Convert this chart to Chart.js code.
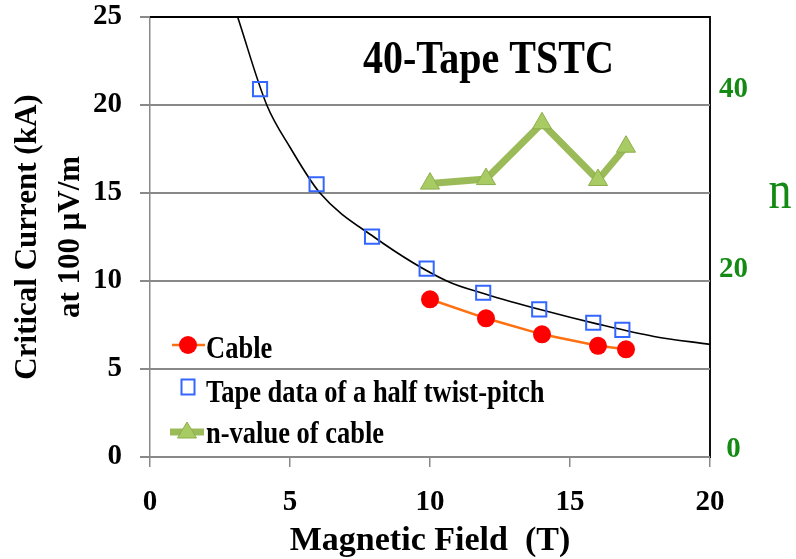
<!DOCTYPE html>
<html>
<head>
<meta charset="utf-8">
<script src="https://cdn.jsdelivr.net/npm/chart.js@4.4.1/dist/chart.umd.min.js"></script>
<style>
  html, body { margin: 0; padding: 0; background: #fff; }
</style>
</head>
<body>
<canvas id="c" width="796" height="559"></canvas>
<script>
// ---- data ----
const fieldCable = [10, 12, 14, 16, 17];
const icCable = [8.96, 7.88, 6.97, 6.32, 6.12];

const fieldTape = [3.93, 5.95, 7.93, 9.88, 11.9, 13.9, 15.83, 16.87];
const icTape = [20.9, 15.5, 12.52, 10.7, 9.33, 8.39, 7.63, 7.22];

const fieldFit = [3.13, 4.17, 5, 6.07, 8, 10.6, 12, 14, 16, 18, 20];
const icFit = [25, 20, 17.6, 15, 12.5, 10, 9.25, 8.35, 7.55, 6.85, 6.4];

const fieldN = [10, 12, 14, 16, 17];
const nValue = [29.6, 30.1, 36.3, 30.0, 33.7];

const xTicks = [0, 5, 10, 15, 20];
const yTicks = [0, 5, 10, 15, 20, 25];
const nTicks = [0, 20, 40];

const seriesNames = ['Cable', 'Tape data of a half twist-pitch', 'n-value of cable'];
const chartTitle = '40-Tape TSTC';
const xTitle = 'Magnetic Field  (T)';
const yTitle = ['Critical Current (kA)', 'at 100 \u03bcV/m'];
const y2Title = 'n';

const pts = (xs, ys) => xs.map((x, i) => ({ x: x, y: ys[i] }));

const SERIF = '"Liberation Serif", serif';
const GREEN_TXT = '#138A13';
const GRID = '#898989';

function stretchedText(ctx, text, x, y, size, sy, color, weight, align) {
  ctx.save();
  ctx.translate(x, y);
  ctx.scale(1, sy);
  ctx.font = weight + ' ' + size + 'px ' + SERIF;
  ctx.fillStyle = color;
  ctx.textAlign = align;
  ctx.textBaseline = 'alphabetic';
  ctx.fillText(text, 0, 0);
  ctx.restore();
}

// horizontal gridlines painted as thin bands at the y-scale tick positions
const gridBands = {
  id: 'gridBands',
  beforeDatasetsDraw(chart) {
    const ctx = chart.ctx;
    const sx = chart.scales.x, sy = chart.scales.y;
    const x0 = sx.getPixelForValue(xTicks[0]);
    const x1 = sx.getPixelForValue(xTicks[xTicks.length - 1]);
    ctx.save();
    yTicks.forEach((v, i) => {
      const py = Math.round(sy.getPixelForValue(v));
      ctx.fillStyle = (i === yTicks.length - 1) ? '#000' : GRID;
      ctx.fillRect(x0, py - 1, x1 - x0, 2);
    });
    ctx.restore();
  }
};

const overlay = {
  id: 'overlay',
  afterDraw(chart) {
    const ctx = chart.ctx;
    const ds = chart.data.datasets;

    // chart title and right-axis title
    stretchedText(ctx, chartTitle, 363, 73, 40, 1.17, '#000', 'bold', 'left');
    stretchedText(ctx, y2Title, 780, 208, 46, 1.2, GREEN_TXT, 'normal', 'center');

    // legend markers
    ctx.save();
    ctx.strokeStyle = ds[0].borderColor; ctx.lineWidth = ds[0].borderWidth;
    ctx.beginPath(); ctx.moveTo(172, 345); ctx.lineTo(205, 345); ctx.stroke();
    ctx.fillStyle = ds[0].pointBackgroundColor;
    ctx.beginPath(); ctx.arc(188, 345, 9, 0, Math.PI * 2); ctx.fill();
    ctx.strokeStyle = ds[1].pointBorderColor; ctx.lineWidth = 2;
    ctx.strokeRect(181.5, 379.5, 13, 15);
    ctx.strokeStyle = ds[2].borderColor; ctx.lineWidth = ds[2].borderWidth;
    ctx.beginPath(); ctx.moveTo(170, 432); ctx.lineTo(204, 432); ctx.stroke();
    ctx.fillStyle = ds[2].pointBackgroundColor;
    ctx.strokeStyle = ds[2].pointBorderColor; ctx.lineWidth = 1;
    ctx.beginPath(); ctx.moveTo(187, 422); ctx.lineTo(196.5, 438); ctx.lineTo(177.5, 438); ctx.closePath();
    ctx.fill(); ctx.stroke();
    ctx.restore();

    // legend labels
    stretchedText(ctx, seriesNames[0], 206, 358, 26.5, 1.23, '#000', 'bold', 'left');
    stretchedText(ctx, seriesNames[1], 206, 402, 26.5, 1.23, '#000', 'bold', 'left');
    stretchedText(ctx, seriesNames[2], 206, 443, 26.5, 1.23, '#000', 'bold', 'left');
  }
};

new Chart(document.getElementById('c'), {
  type: 'scatter',
  data: {
    datasets: [
      {
        label: seriesNames[0],
        data: pts(fieldCable, icCable),
        showLine: true,
        borderColor: '#FF7010',
        borderWidth: 2.5,
        pointStyle: 'circle',
        pointRadius: 9,
        pointBackgroundColor: '#FF0000',
        pointBorderColor: '#FF0000',
        pointBorderWidth: 0,
        yAxisID: 'y',
        order: 1
      },
      {
        label: seriesNames[1],
        data: pts(fieldTape, icTape),
        showLine: false,
        pointStyle: 'rect',
        pointRadius: 10,
        pointBackgroundColor: 'rgba(255,255,255,0)',
        pointBorderColor: '#3366FF',
        pointBorderWidth: 2,
        yAxisID: 'y',
        order: 2
      },
      {
        label: seriesNames[2],
        data: pts(fieldN, nValue),
        showLine: true,
        borderColor: '#9BBB59',
        borderWidth: 7,
        pointStyle: 'triangle',
        pointRadius: 11,
        pointBackgroundColor: '#A8CB63',
        pointBorderColor: '#8DAE4C',
        pointBorderWidth: 1,
        yAxisID: 'y2',
        order: 3
      },
      {
        label: 'fit',
        data: pts(fieldFit, icFit),
        showLine: true,
        borderColor: '#000000',
        borderWidth: 1.6,
        pointRadius: 0,
        cubicInterpolationMode: 'monotone',
        yAxisID: 'y',
        order: 4
      }
    ]
  },
  options: {
    responsive: false,
    animation: false,
    devicePixelRatio: 1,
    layout: { padding: 0 },
    plugins: { legend: { display: false }, tooltip: { enabled: false } },
    scales: {
      x: {
        type: 'linear',
        min: 0, max: 20,
        afterBuildTicks: s => { s.ticks = xTicks.map(v => ({ value: v })); },
        afterFit: s => { s.height = 102; },
        grid: { drawOnChartArea: false, tickLength: 10, color: GRID, lineWidth: 1.5 },
        border: { color: GRID, width: 1.5 },
        ticks: { color: '#000', padding: 18, font: { family: SERIF, size: 29, weight: 'bold' } },
        title: {
          display: true, text: xTitle, color: '#000',
          font: { family: SERIF, size: 34, weight: 'bold', lineHeight: 1 },
          padding: { top: 0, bottom: 1 }
        }
      },
      y: {
        type: 'linear',
        position: 'left',
        min: 0, max: 25,
        afterBuildTicks: s => { s.ticks = yTicks.map(v => ({ value: v })); },
        afterFit: s => { s.width = 150; s.paddingTop = 17; s.paddingBottom = 0; },
        grid: { tickLength: 10, lineWidth: 2, color: GRID },
        border: { color: GRID, width: 1.5 },
        ticks: { color: '#000', padding: 18, font: { family: SERIF, size: 29, weight: 'bold', lineHeight: 1 } },
        title: {
          display: true, text: yTitle, color: '#000',
          font: { family: SERIF, size: 31, weight: 'bold', lineHeight: 1.39 },
          padding: { top: 6, bottom: 0 }
        }
      },
      y2: {
        type: 'linear',
        position: 'right',
        min: -0.778, max: 48.11,
        afterBuildTicks: s => { s.ticks = nTicks.map(v => ({ value: v })); },
        afterFit: s => { s.width = 86; s.paddingTop = 17; s.paddingBottom = 0; },
        grid: { drawOnChartArea: false, drawTicks: false },
        border: { color: '#111', width: 2 },
        ticks: { color: GREEN_TXT, padding: 9, crossAlign: 'center', font: { family: SERIF, size: 29, weight: 'bold', lineHeight: 1 } }
      }
    }
  },
  plugins: [gridBands, overlay]
});
</script>
</body>
</html>
